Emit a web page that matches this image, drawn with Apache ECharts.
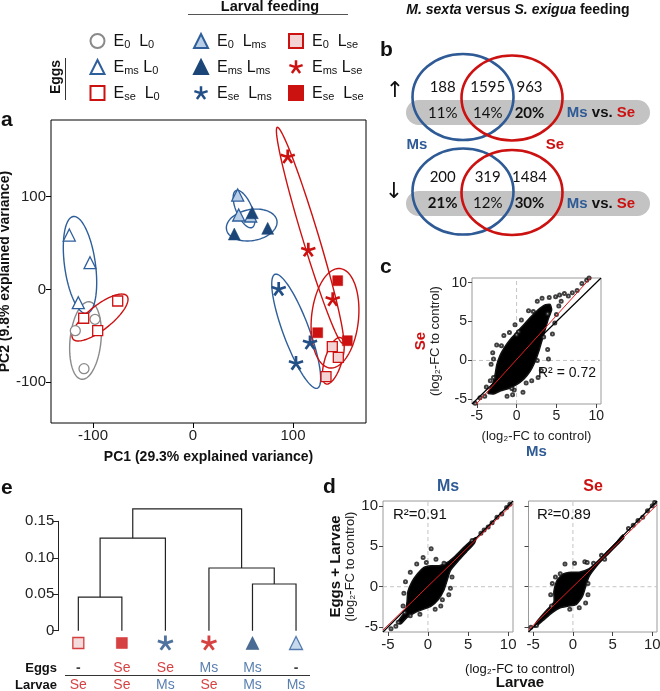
<!DOCTYPE html>
<html><head><meta charset="utf-8">
<script src="https://cdn.jsdelivr.net/npm/echarts@6/dist/echarts.min.js"></script>
<style>html,body{margin:0;padding:0;background:#fff}#c{width:660px;height:691px}</style>
</head><body><div id="c"></div>
<script>
// ---------------- DATA ----------------
const groups = ['E0L0','EmsL0','EseL0','E0Lms','EmsLms','EseLms','E0Lse','EmsLse','EseLse'];
const legendSubs = {E0L0:['0','0'],EmsL0:['ms','0'],EseL0:['se','0'],E0Lms:['0','ms'],EmsLms:['ms','ms'],EseLms:['se','ms'],E0Lse:['0','se'],EmsLse:['ms','se'],EseLse:['se','se']};
// PCA scores (PC1, PC2)
const pca_E0L0   = [[-98,-32.1],[-117.7,-44.4],[-109,-85.3]];
const pca_EmsL0  = [[-123.7,58.7],[-103,28.9],[-114.7,-14.2]];
const pca_EseL0  = [[-109.3,-31.0],[-95.3,-44.4],[-75.3,-12.4]];
const pca_E0Lms  = [[44.7,101.8],[45.7,80.3],[57.7,79.2]];
const pca_EmsLms = [[41.3,59.8],[74.7,65.9],[59.3,82.8]];
const pca_EseLms = [[85.7,0.5],[117,-57.3],[103,-79.5]];
const pca_E0Lse  = [[139.3,-61.6],[145.3,-73.1],[133,-94]];
const pca_EmsLse = [[94.7,143.1],[115.3,42.6],[139.7,-10.6]];
const pca_EseLse = [[144.7,9.5],[124.7,-46.6],[154.3,-55.2]];
// confidence ellipses: [cx, cy, semi-axis1 x, y, semi-axis2 x, y]
const ell_E0L0   = [-107.5,-55, 3.8,41.8, 15.4,-1.6];
const ell_EmsL0  = [-113,26.4, -6.7,52.3, 15.3,2.3];
const ell_EseL0  = [-93,-30.2, 27,23.2, 7.5,-10.1];
const ell_E0Lms  = [51,86.7, 8,-19.9, 7.3,3.4];
const ell_EmsLms = [58.7,69.5, 25.2,4.8, 2.7,-16.5];
const ell_EseLms = [103.2,-45, 21.2,-61.4, 12.2,4.8];
const ell_E0Lse  = [140.3,-76.8, -7.3,-25, 8.1,-2.8];
const ell_EmsLse = [117,58.4, 32.7,-116.4, 7.7,2.5];
const ell_EseLse = [142,-31, 5,53.6, 23.4,-2.5];
const pcaTicks = [-100, 0, 100];

// Venn counts
const vennUpCounts = [188, 1595, 963];
const vennUpPct = ['11%','14%','20%'];
const vennUpBold = [false,false,true];
const vennDownCounts = [200, 319, 1484];
const vennDownPct = ['21%','12%','30%'];
const vennDownBold = [true,false,true];

// panel c: Ms vs Se log2FC (dense core outline + sparse points)
const fcTicks = [-5, 0, 5, 10];
const c_core = [[-3.6,-4.2],[-3.0,-3.0],[-2.7,-1.8],[-2.5,-0.6],[-2.1,0.6],[-1.5,1.7],[-0.8,2.7],[0.0,3.6],[0.9,4.6],[1.8,5.6],[2.7,6.5],[3.5,7.1],[4.2,7.2],[4.4,6.5],[4.0,5.4],[3.6,4.0],[3.2,2.6],[2.8,1.2],[2.3,-0.2],[1.7,-1.4],[0.9,-2.4],[0.0,-3.1],[-1.0,-3.6],[-2.0,-3.9],[-2.9,-4.3]];
const c_sparse = [[-5.2,-5.5],[-4.6,-4.8],[-4.0,-4.6],[-3.8,-3.4],[-3.3,-2.6],[-1.2,-4.6],[-0.5,-4.4],[0.8,-4.1],[-0.3,-3.8],[2.7,-2.2],[3.1,-1.3],[4.0,0.2],[3.9,1.4],[1.9,-2.6],[-3.2,-0.5],[-3.0,1.0],[-2.5,2.0],[-1.6,3.2],[-0.9,3.6],[-0.2,4.6],[0.6,5.2],[1.5,6.4],[2.6,7.6],[3.2,8.0],[4.1,8.1],[4.9,8.2],[5.4,8.4],[6.0,8.6],[6.5,8.3],[7.0,8.7],[7.6,9.0],[8.2,9.9],[8.8,10.3],[9.1,10.6],[5.3,7.0],[5.6,7.6],[5.0,5.9],[4.8,4.8],[4.5,3.4],[0.25,3.7],[0.0,3.3],[-2.9,-2.2],[-2.9,0.2],[-1.9,1.9],[3.4,3.0],[2.6,0.0],[1.2,-2.9],[-0.6,-3.6],[2.1,6.3],[3.9,6.0]];
const c_fit = [0.12, 1.13];
const c_r2 = '0.72';

// panel d: Larvae vs Eggs+Larvae
const dMs_core = [[-3.8,-4.4],[-2.8,-3.0],[-2.6,-1.8],[-2.5,-0.6],[-2.0,0.6],[-1.3,1.6],[-0.5,2.4],[0.4,2.6],[1.4,2.6],[2.4,3.0],[3.4,3.8],[4.4,4.8],[5.4,5.7],[6.0,6.1],[5.8,5.4],[4.8,4.3],[3.8,3.2],[2.8,2.0],[2.4,0.8],[2.0,-0.4],[1.3,-1.6],[0.4,-2.4],[-0.6,-2.8],[-1.6,-3.2],[-2.6,-3.8],[-3.4,-4.6]];
const dMs_sparse = [[0.4,4.7],[-4.0,-4.9],[-3.7,-4.4],[-4.6,-5.2],[-2.9,-3.2],[-2.2,-3.6],[-1.0,-3.4],[0.9,-2.8],[1.8,-1.6],[2.8,-0.2],[3.0,1.2],[-3.0,-0.8],[-2.8,0.6],[-2.2,1.8],[-1.4,2.8],[-0.6,3.6],[1.0,3.4],[7.0,7.0],[7.5,7.4],[8.0,7.9],[8.6,8.6],[9.2,9.0],[9.8,9.8],[10.2,10.2],[6.6,6.6],[5.5,5.7],[-0.2,3.0],[2.0,2.9],[2.6,-1.0],[-3.1,-2.4],[1.6,-2.4]];
const dMs_fit = [0.05, 0.965];
const dMs_r2 = '0.91';
const dSe_core = [[-4.6,-4.4],[-3.4,-3.0],[-2.4,-1.9],[-2.4,-0.6],[-2.0,0.8],[-1.2,1.6],[-0.2,1.8],[0.8,1.8],[2.0,2.2],[3.2,3.2],[4.4,4.4],[5.6,5.6],[6.3,6.4],[6.4,6.0],[5.6,5.2],[4.4,4.0],[3.2,2.8],[2.0,1.2],[1.6,0.0],[1.2,-1.2],[0.4,-2.2],[-0.6,-2.4],[-1.6,-2.6],[-2.6,-3.2],[-3.8,-4.2],[-4.8,-5.0]];
const dSe_sparse = [[-1.0,2.8],[0.2,2.9],[1.5,3.1],[1.8,3.0],[-5.3,-5.0],[-4.6,-4.8],[-2.8,-1.0],[-2.6,0.4],[-1.6,1.6],[1.9,-1.0],[1.6,-2.0],[0.8,-2.6],[7.0,7.2],[7.6,7.6],[8.2,8.2],[8.8,8.6],[9.4,9.4],[10.0,10.0],[10.3,10.4],[3.6,3.9],[2.6,2.9],[4.0,3.4],[-2.2,1.2],[-2.7,-2.4],[-0.4,-2.8],[1.9,0.4]];
const dSe_fit = [0.0, 0.955];
const dSe_r2 = '0.89';

// panel e: hierarchical clustering
const leafOrder = ['E0Lse','EseLse','EseLms','EmsLse','EmsLms','E0Lms'];
const leafEggs = ['-','Se','Se','Ms','Ms','-'];
const leafLarvae = ['Se','Se','Ms','Se','Ms','Ms'];
const mergePairs = [[-1,-2],[-5,-6],[-4,2],[1,-3],[4,3]];
const mergeHeights = [0.046, 0.064, 0.086, 0.127, 0.167];

// ---------------- STYLE ----------------
const FONT = 'Liberation Sans';
const C = {blue:'#2f5f9b', navy:'#1d4678', sblue:'#234f87', red:'#cc1111', pink:'#f3d3d3', lblue:'#b9cfe8', gray:'#8a8a8a'};
function asterisk(n){
  let d=''; const c=50, r=50, w=9;
  for(let i=0;i<n;i++){
    const a=(-90+i*360/n)*Math.PI/180, dx=Math.cos(a), dy=Math.sin(a), px=-dy, py=dx;
    const pts=[[c-px*w-dx*w,c-py*w-dy*w],[c+dx*r-px*w,c+dy*r-py*w],[c+dx*r+px*w,c+dy*r+py*w],[c+px*w-dx*w,c+py*w-dy*w]];
    d+='M'+pts.map(p=>p[0].toFixed(1)+' '+p[1].toFixed(1)).join(' L')+' Z ';
  }
  return 'path://'+d;
}
const STAR = asterisk(5);
const gs = {
  E0L0:  {symbol:'circle',  size:10, color:'#fff',  border:C.gray, bw:1.3, ell:C.gray},
  EmsL0: {symbol:'triangle',size:12, color:'#fff',  border:C.blue, bw:1.3, ell:C.blue},
  EseL0: {symbol:'rect',    size:10, color:'#fff',  border:C.red,  bw:1.3, ell:C.red},
  E0Lms: {symbol:'triangle',size:12, color:C.lblue, border:C.blue, bw:1.3, ell:C.blue},
  EmsLms:{symbol:'triangle',size:12, color:C.navy,  border:C.navy, bw:0.5, ell:C.blue},
  EseLms:{symbol:STAR,      size:15, color:C.sblue, border:C.sblue,bw:0,   ell:C.blue},
  E0Lse: {symbol:'rect',    size:10, color:C.pink,  border:C.red,  bw:1.3, ell:C.red},
  EmsLse:{symbol:STAR,      size:15, color:C.red,   border:C.red,  bw:0,   ell:C.red},
  EseLse:{symbol:'rect',    size:10, color:C.red,   border:C.red,  bw:0.5, ell:C.red}
};
const pcaData = {E0L0:pca_E0L0,EmsL0:pca_EmsL0,EseL0:pca_EseL0,E0Lms:pca_E0Lms,EmsLms:pca_EmsLms,EseLms:pca_EseLms,E0Lse:pca_E0Lse,EmsLse:pca_EmsLse,EseLse:pca_EseLse};
const ellData = {E0L0:ell_E0L0,EmsL0:ell_EmsL0,EseL0:ell_EseL0,E0Lms:ell_E0Lms,EmsLms:ell_EmsLms,EseLms:ell_EseLms,E0Lse:ell_E0Lse,EmsLse:ell_EmsLse,EseLse:ell_EseLse};

const FCMIN=-5.6, FCMAX=10.6;
const chart = echarts.init(document.getElementById('c'));

function fcAxis(gi, showLabel, fs){
  return {gridIndex:gi, type:'value', min:FCMIN, max:FCMAX,
    axisLine:{show:false, onZero:false}, splitLine:{show:false},
    axisTick:{show:true, length:4, customValues:fcTicks, lineStyle:{color:'#444'}},
    axisLabel:{show:showLabel, customValues:fcTicks, fontSize:fs, color:'#222', fontFamily:FONT, margin:5}};
}
function fcSeries(gi, core, sparse, fit){
  const dash = {color:'#c4c4c4', width:1, type:[4,3]};
  return [
    {type:'line', xAxisIndex:gi, yAxisIndex:gi, data:[[0,FCMIN],[0,FCMAX]], symbol:'none', z:1, silent:true, lineStyle:dash},
    {type:'line', xAxisIndex:gi, yAxisIndex:gi, data:[[FCMIN,0],[FCMAX,0]], symbol:'none', z:1, silent:true, lineStyle:dash},
    {type:'custom', xAxisIndex:gi, yAxisIndex:gi, data:[core[0]], z:3, silent:true,
     renderItem:(p,api)=>({type:'polygon', shape:{points:core.map(q=>api.coord(q)), smooth:0.2},
       style:{fill:'#000', stroke:'#111', lineWidth:1.5}})},
    {type:'scatter', xAxisIndex:gi, yAxisIndex:gi, data:sparse, z:4, symbol:'emptyCircle', symbolSize:3,
     itemStyle:{color:'#111', borderColor:'#222', borderWidth:0.6}, silent:true},
    {type:'line', xAxisIndex:gi, yAxisIndex:gi, data:[[FCMIN,FCMIN],[FCMAX,FCMAX]], symbol:'none', z:5,
     lineStyle:{color:'#000', width:1.2}, silent:true},
    {type:'line', xAxisIndex:gi, yAxisIndex:gi, data:[[FCMIN,fit[0]+fit[1]*FCMIN],[FCMAX,fit[0]+fit[1]*FCMAX]], symbol:'none', z:6,
     lineStyle:{color:'#e8191e', width:1}, silent:true}
  ];
}

// dendrogram node positions
const nodeX = [], nodeH = [];
function childPos(k){ return k<0 ? [(-k), 0] : [nodeX[k-1], nodeH[k-1]]; }
mergePairs.forEach((m,i)=>{ const a=childPos(m[0]), b=childPos(m[1]); nodeX.push((a[0]+b[0])/2); nodeH.push(mergeHeights[i]); });

const subRich = {
  g:{width:4}, b:{fontSize:16, lineHeight:18, verticalAlign:'bottom', color:'#111', fontFamily:FONT},
  s:{fontSize:11, lineHeight:8, verticalAlign:'bottom', color:'#111', fontFamily:FONT}
};
function legFmt(name){
  const s = legendSubs[name];
  const sp = s[0]==='ms' ? '' : ' ';
  return '{g|}{b|E}{s|'+s[0]+'}{b|'+sp+' L}{s|'+s[1]+'}';
}

const series = [];
series.push({type:'custom', xAxisIndex:0, yAxisIndex:0, z:2, silent:true,
  data: groups.map(g=>[ellData[g][0], ellData[g][1]]),
  renderItem:(p,api)=>{
    const g = groups[p.dataIndex], e = ellData[g], pts=[];
    for(let i=0;i<90;i++){ const t=i/90*2*Math.PI, c=Math.cos(t), s=Math.sin(t);
      pts.push(api.coord([e[0]+e[2]*c+e[4]*s, e[1]+e[3]*c+e[5]*s])); }
    return {type:'polygon', shape:{points:pts}, style:{fill:'none', stroke:gs[g].ell, lineWidth:1.4}};
  }});
groups.forEach(g=>{
  series.push({name:g, type:'scatter', xAxisIndex:0, yAxisIndex:0, z:5, data:pcaData[g],
    symbol:gs[g].symbol, symbolSize:gs[g].size, symbolKeepAspect:true,
    itemStyle:{color:gs[g].color, borderColor:gs[g].border, borderWidth:gs[g].bw, opacity:1}});
});
series.push(...fcSeries(1, c_core, c_sparse, c_fit));
series.push(...fcSeries(2, dMs_core, dMs_sparse, dMs_fit));
series.push(...fcSeries(3, dSe_core, dSe_sparse, dSe_fit));
series.push({type:'custom', xAxisIndex:4, yAxisIndex:4, clip:false, silent:true, z:3,
  data: mergePairs.map((m,i)=>[nodeX[i], nodeH[i]]),
  renderItem:(p,api)=>{
    const i=p.dataIndex, m=mergePairs[i], a=childPos(m[0]), b=childPos(m[1]), h=nodeH[i];
    return {type:'polyline', shape:{points:[api.coord(a), api.coord([a[0],h]), api.coord([b[0],h]), api.coord(b)]},
      style:{stroke:'#222', lineWidth:1.2, fill:'none'}};
  }});
series.push({type:'scatter', xAxisIndex:5, yAxisIndex:5, z:4, silent:true,
  data: leafOrder.map((g,i)=>({value:[i+1,13], symbol:gs[g].symbol, symbolSize:gs[g].size+1, symbolKeepAspect:true,
    itemStyle:{color:gs[g].color, borderColor:gs[g].border, borderWidth:gs[g].bw}}))});
function rowLabels(arr, y){
  return {type:'scatter', xAxisIndex:5, yAxisIndex:5, z:4, silent:true, symbolSize:1,
    itemStyle:{color:'rgba(0,0,0,0)'},
    data: arr.map((t,i)=>({value:[i+1,y], label:{show:true, position:'inside', formatter:t,
      color: t==='Se'?C.red:(t==='Ms'?C.blue:'#111'), fontWeight: t==='-'?'bold':'normal',
      fontSize: 14, fontFamily:FONT}}))};
}
series.push(rowLabels(leafEggs, 38));
series.push(rowLabels(leafLarvae, 55));

// graphics
const G = [];
function T(x,y,text,opt){ opt=opt||{}; G.push({type:'text', x:x, y:y, rotation:opt.rot||0, silent:true, z:10,
  style:Object.assign({text:text, align:opt.align||'center', verticalAlign:'middle', fill:opt.fill||'#111',
  font:opt.font||('14px '+FONT)}, opt.rich?{rich:opt.rich}:{})}); }
const BOLD21 = 'bold 21px '+FONT;
T(1,120,'a',{align:'left',font:BOLD21});
T(380,50,'b',{align:'left',font:BOLD21});
T(380,267,'c',{align:'left',font:BOLD21});
T(323,487,'d',{align:'left',font:BOLD21});
T(1,488,'e',{align:'left',font:BOLD21});
T(270,7,'Larval feeding',{font:'bold 14.5px '+FONT});
G.push({type:'line', silent:true, shape:{x1:188,y1:14.5,x2:348,y2:14.5}, style:{stroke:'#555', lineWidth:1}});
T(56,77,'Eggs',{font:'bold 14px '+FONT, rot:Math.PI/2});
G.push({type:'line', silent:true, shape:{x1:65.5,y1:58,x2:65.5,y2:100}, style:{stroke:'#333', lineWidth:1}});
T(518,10,'{i|M. sexta} versus {i|S. exigua} feeding',{font:'bold 14px '+FONT,
  rich:{i:{fontStyle:'italic', fontWeight:'bold', fontSize:14, fontFamily:FONT}}});
const vennX = [442.7, 487.7, 529.5];
function venn(cy, barY, counts, pcts, bolds, numY, pctY){
  G.push({type:'rect', silent:true, z:5, shape:{x:406,y:barY,width:244,height:25,r:12.5}, style:{fill:'#c3c3c3'}});
  G.push({type:'ellipse', silent:true, z:7, shape:{cx:463,cy:cy,rx:50.5,ry:43}, style:{fill:'none', stroke:'#2e5a95', lineWidth:2.6}});
  G.push({type:'ellipse', silent:true, z:7, shape:{cx:512,cy:cy+1,rx:50.5,ry:42.5}, style:{fill:'none', stroke:'#cc1111', lineWidth:2.6}});
  counts.forEach((v,i)=>T(vennX[i], numY, String(v), {font:'15px Lato'}));
  pcts.forEach((v,i)=>T(vennX[i], pctY, v, {font:(bolds[i]?'bold ':'')+'15px Lato'}));
  T(601, pctY, '{m|Ms} {v|vs.} {s|Se}', {font:'bold 15px '+FONT, rich:{
    m:{fill:'#2e5a95', fontWeight:'bold', fontSize:15, fontFamily:FONT},
    v:{fill:'#111', fontWeight:'bold', fontSize:15, fontFamily:FONT},
    s:{fill:'#cc1111', fontWeight:'bold', fontSize:15, fontFamily:FONT}}});
}
venn(97, 100, vennUpCounts, vennUpPct, vennUpBold, 87, 113);
venn(191.5, 191, vennDownCounts, vennDownPct, vennDownBold, 177, 203.5);
T(395,91,'↑',{font:'22px DejaVu Sans'});
T(394,192,'↓',{font:'22px DejaVu Sans'});
T(417,145,'Ms',{font:'bold 15px '+FONT, fill:'#2e5a95'});
T(555,145,'Se',{font:'bold 15px '+FONT, fill:'#cc1111'});
T(538,373,'R² = '+c_r2,{align:'left', font:'14px '+FONT});
T(393,515,'R²='+dMs_r2,{align:'left', font:'15px '+FONT});
T(537,515,'R²='+dSe_r2,{align:'left', font:'15px '+FONT});
T(448,487,'Ms',{font:'bold 16px '+FONT, fill:'#2e5a95'});
T(593,487,'Se',{font:'bold 16px '+FONT, fill:'#cc1111'});
T(520,669,'(log₂-FC to control)',{font:'13px '+FONT});
T(520,683,'Larvae',{font:'bold 15px '+FONT});
T(57,668,'Eggs',{align:'right', font:'bold 13px '+FONT});
T(57,685,'Larvae',{align:'right', font:'bold 13px '+FONT});
G.push({type:'line', silent:true, shape:{x1:65,y1:675.5,x2:310,y2:675.5}, style:{stroke:'#333', lineWidth:1}});

const nameRich = {
  se:{color:'#cc1111', fontWeight:'bold', fontSize:15, lineHeight:15, fontFamily:FONT},
  ms:{color:'#2e5a95', fontWeight:'bold', fontSize:15, lineHeight:16, fontFamily:FONT},
  b:{color:'#111', fontWeight:'bold', fontSize:15, lineHeight:16, fontFamily:FONT},
  n:{color:'#222', fontSize:13, lineHeight:15, fontFamily:FONT}
};
const GB = {outerBoundsMode:'none', containLabel:false};
const PCA_YMIN = -143.9, PCA_YMAX = 182.7;

const option = {
  animation:false,
  textStyle:{fontFamily:FONT},
  legend:[0,1,2].map(col=>({orient:'vertical', left:[84.5,188,283][col], top:28, itemWidth:14, itemHeight:14,
    itemGap:9, selectedMode:false, data:groups.slice(col*3,col*3+3), formatter:legFmt,
    textStyle:{rich:subRich, fontSize:16}})),
  grid:[
    Object.assign({left:51, top:120, width:315, height:303, show:true, borderColor:'#000', borderWidth:1}, GB),
    Object.assign({left:472, top:278, width:129, height:126, show:true, borderColor:'#9a9a9a', borderWidth:1}, GB),
    Object.assign({left:383, top:501, width:130, height:131, show:true, borderColor:'#9a9a9a', borderWidth:1}, GB),
    Object.assign({left:528.5, top:501, width:128.5, height:131, show:true, borderColor:'#9a9a9a', borderWidth:1}, GB),
    Object.assign({left:58.3, top:521.3, width:259.5, height:109.4}, GB),
    Object.assign({left:58.3, top:630, width:259.5, height:60}, GB)
  ],
  xAxis:[
    {gridIndex:0, type:'value', min:-142, max:173, splitLine:{show:false},
     axisLine:{show:false, onZero:false}, axisTick:{length:5, customValues:pcaTicks, lineStyle:{color:'#000'}},
     axisLabel:{customValues:pcaTicks, fontSize:15, color:'#222', margin:5},
     name:'PC1 (29.3% explained variance)', nameLocation:'middle', nameGap:27,
     nameTextStyle:{fontWeight:'bold', fontSize:14, color:'#111'}},
    Object.assign(fcAxis(1,true,14), {name:'{n|(log₂-FC to control)}\n{ms|Ms}', nameLocation:'middle', nameGap:25, nameTextStyle:{rich:nameRich}}),
    fcAxis(2,true,15),
    fcAxis(3,true,15),
    {gridIndex:4, type:'value', min:0.54, max:6.5, show:false},
    {gridIndex:5, type:'value', min:0.54, max:6.5, show:false}
  ],
  yAxis:[
    {gridIndex:0, type:'value', min:PCA_YMIN, max:PCA_YMAX, splitLine:{show:false},
     axisLine:{show:false, onZero:false}, axisTick:{length:5, customValues:pcaTicks, lineStyle:{color:'#000'}},
     axisLabel:{customValues:pcaTicks, fontSize:15, color:'#222', margin:5},
     name:'PC2 (9.8% explained variance)', nameLocation:'middle', nameGap:36, nameRotate:90,
     nameTextStyle:{fontWeight:'bold', fontSize:14, color:'#111'}},
    Object.assign(fcAxis(1,true,14), {name:'{se|Se}\n{n|(log₂-FC to control)}', nameLocation:'middle', nameRotate:90, nameGap:29, nameTextStyle:{rich:nameRich}}),
    Object.assign(fcAxis(2,true,15), {name:'{b|Eggs + Larvae}\n{n|(log₂-FC to control)}', nameLocation:'middle', nameRotate:90, nameGap:20, nameTextStyle:{rich:nameRich}}),
    fcAxis(3,false,15),
    {gridIndex:4, type:'value', min:0, max:0.15, interval:0.05, splitLine:{show:false},
     axisLine:{show:true, onZero:false, lineStyle:{color:'#222', width:1}},
     axisTick:{show:true, length:6, lineStyle:{color:'#222'}},
     axisLabel:{fontSize:15, color:'#222', margin:4, formatter:v=>v===0?'0':v.toFixed(2)}},
    {gridIndex:5, type:'value', min:0, max:60, inverse:true, show:false}
  ],
  series: series,
  graphic: G
};
chart.setOption(option);
</script></body></html>
